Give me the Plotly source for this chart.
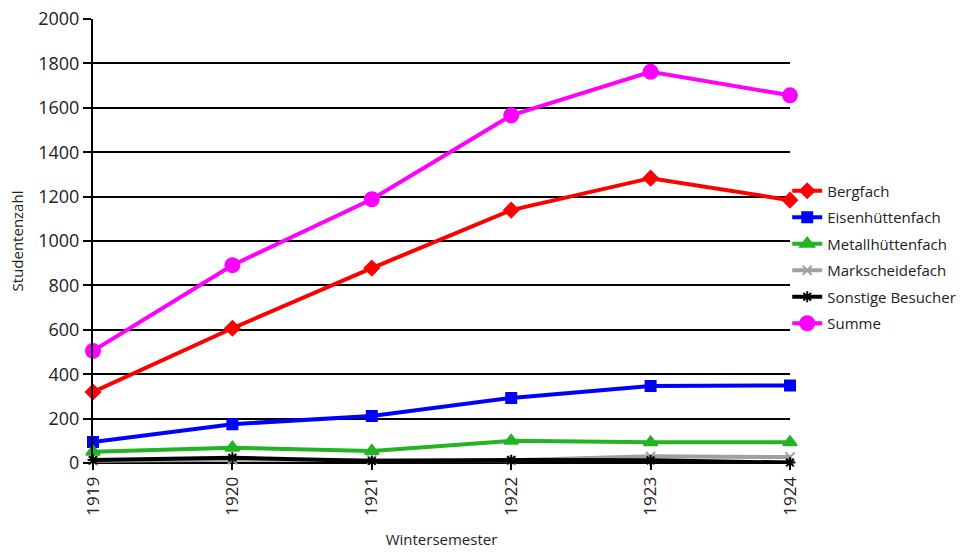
import plotly.graph_objects as go

years = [1919, 1920, 1921, 1922, 1923, 1924]
year_labels = ["1919", "1920", "1921", "1922", "1923", "1924"]
y_ticks = [0, 200, 400, 600, 800, 1000, 1200, 1400, 1600, 1800, 2000]

bergfach = [320, 607, 878, 1139, 1283, 1184]
eisenhuettenfach = [95, 175, 212, 293, 347, 349]
metallhuettenfach = [51, 69, 54, 100, 93, 93]
markscheidefach = [10, 15, 14, 12, 30, 27]
sonstige = [13, 24, 9, 13, 12, 2]
summe = [505, 891, 1188, 1566, 1762, 1656]

series = [
    ("Bergfach", bergfach, "#ff0000", "diamond", 11),
    ("Eisenhüttenfach", eisenhuettenfach, "#0000ff", "square", 10),
    ("Metallhüttenfach", metallhuettenfach, "#22b422", "triangle-up", 12),
    ("Markscheidefach", markscheidefach, "#a0a0a0", "x-thin", 9),
    ("Sonstige Besucher", sonstige, "#000000", "asterisk", 9),
    ("Summe", summe, "#ff00ff", "circle", 14),
]

fig = go.Figure()
for name, vals, color, sym, size in series:
    fig.add_trace(go.Scatter(
        x=years, y=vals, name=name, mode="lines+markers",
        legendgroup=name,
        line=dict(color=color, width=4),
        marker=dict(symbol=sym, size=size, color=color,
                    line=dict(color=color, width=2)),
        cliponaxis=False,
    ))

font = "Open Sans, Noto Sans, sans-serif"
fig.update_layout(
    width=974, height=553,
    margin=dict(l=93, r=184, t=19, b=90),
    paper_bgcolor="white", plot_bgcolor="white",
    font=dict(family=font, size=16, color="#222"),
    showlegend=True,
    legend=dict(x=0.996, y=0.464, xanchor="left", yanchor="middle",
                font=dict(size=15, color="#222"), tracegroupgap=4,
                itemwidth=30, bgcolor="rgba(0,0,0,0)"),
    xaxis=dict(
        range=[1919, 1924], tickvals=years, ticktext=year_labels,
        tickangle=-90, showgrid=False, zeroline=False, automargin=False,
        showline=False, ticks="outside", ticklen=6, tickcolor="black",
        tickwidth=2, tickfont=dict(size=17),
        title=dict(text="Wintersemester", font=dict(size=15), standoff=19),
    ),
    yaxis=dict(
        range=[0, 2000], tickmode="array", tickvals=y_ticks,
        showgrid=True, gridcolor="black",
        gridwidth=2, zeroline=True, zerolinecolor="black", zerolinewidth=2,
        showline=True, linecolor="black", linewidth=2, automargin=False,
        ticks="outside", ticklen=8, tickcolor="black", tickwidth=2,
        tickfont=dict(size=18),
        title=dict(text="Studentenzahl", font=dict(size=15), standoff=11),
    ),
)

fig.write_html("out.html", config={"displayModeBar": False},
               post_script="document.body.style.margin='0';")
